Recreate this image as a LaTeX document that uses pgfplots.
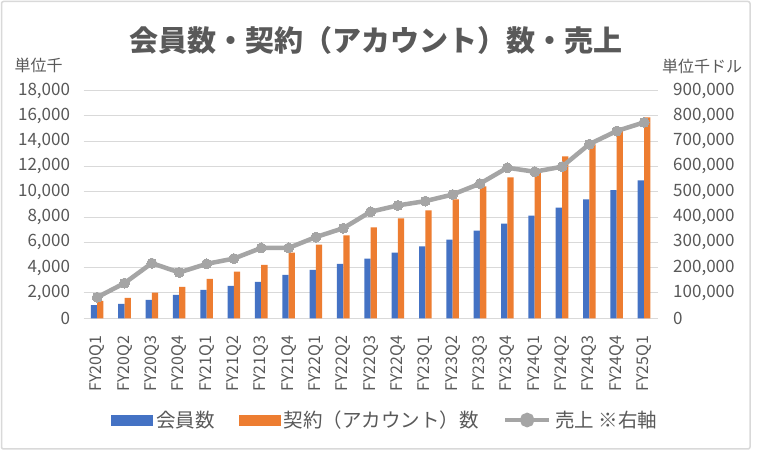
\documentclass[border=0pt]{standalone}
\usepackage{pgfplots}
\pgfplotsset{compat=1.18}
\usepackage{fontspec}
\setmainfont{Noto Sans CJK JP}
\definecolor{cblue}{HTML}{4472C4}
\definecolor{corange}{HTML}{ED7D31}
\definecolor{cgray}{HTML}{A5A5A5}
\definecolor{cgrid}{HTML}{D9D9D9}
\definecolor{ctext}{HTML}{595959}
\newcommand{\fs}[1]{\fontsize{#1}{#1}\selectfont}
\begin{document}
\begin{tikzpicture}
\path[use as bounding box, fill=white] (0pt,0pt) rectangle (768pt,452pt);
\draw[cgrid, line width=1.5pt, rounded corners=2pt] (1.5pt,450.5pt) rectangle (750pt,3pt);
\node[text=ctext, font=\fs{29}\bfseries] at (376pt,412pt) {会員数・契約（アカウント）数・売上};
\node[text=ctext, font=\fs{16}] at (38.5pt,387pt) {単位千};
\node[text=ctext, font=\fs{16}] at (702pt,386pt) {単位千ドル};
\pgfplotsset{
  base/.style={
    scale only axis, width=574.2pt, height=227.8pt,
    at={(83.5pt,133.7pt)}, anchor=south west,
    xmin=-0.5, xmax=20.5,
    axis line style={draw=none}, tick style={draw=none},
    /pgf/number format/assume math mode=true,
    /pgf/number format/fixed,
    /pgf/number format/precision=0,
    /pgf/number format/1000 sep={,},
    scaled y ticks=false,
    yticklabel style={text=ctext, font=\fs{17}},
  }
}
\begin{axis}[base,
  ymin=0, ymax=18000, ytick={0,2000,...,18000},
  ymajorgrids, grid style={cgrid, line width=1pt},
  xtick={0,...,20},
  xticklabels={FY20Q1,FY20Q2,FY20Q3,FY20Q4,FY21Q1,FY21Q2,FY21Q3,FY21Q4,FY22Q1,FY22Q2,FY22Q3,FY22Q4,FY23Q1,FY23Q2,FY23Q3,FY23Q4,FY24Q1,FY24Q2,FY24Q3,FY24Q4,FY25Q1},
  xticklabel style={rotate=90, anchor=east, text=ctext, font=\fs{16}},
  xticklabel shift=14pt,
  yticklabel shift=10pt,
]
\addplot[ybar, fill=cblue, draw=none, bar width=0.23, bar shift=-0.115] coordinates {
(0,1050) (1,1130) (2,1450) (3,1850) (4,2250) (5,2560) (6,2880) (7,3440) (8,3830) (9,4310) (10,4710) (11,5180) (12,5680) (13,6210) (14,6930) (15,7480) (16,8120) (17,8750) (18,9390) (19,10130) (20,10900)};
\addplot[ybar, fill=corange, draw=none, bar width=0.23, bar shift=0.115] coordinates {
(0,1370) (1,1610) (2,2030) (3,2480) (4,3120) (5,3680) (6,4230) (7,5180) (8,5820) (9,6560) (10,7190) (11,7900) (12,8520) (13,9390) (14,10420) (15,11140) (16,11600) (17,12800) (18,13750) (19,14940) (20,15870)};
\end{axis}
\begin{axis}[base,
  ymin=0, ymax=900000, ytick={0,100000,...,900000},
  axis y line*=right, axis x line=none,
  yticklabel style={anchor=west},
  yticklabel shift=12pt,
  legend columns=3,
  legend style={draw=none, fill=none, at={(0.525,-0.4465)}, anchor=center,
    font=\fs{19.5}, text=ctext,
    /tikz/every odd column/.append style={column sep=2pt},
    /tikz/every even column/.append style={column sep=22pt}},
]
\addlegendimage{legend image code/.code={\fill[cblue] (0pt,-5pt) rectangle (41pt,5pt);}}
\addlegendentry{会員数}
\addlegendimage{legend image code/.code={\fill[corange] (0pt,-5pt) rectangle (41pt,5pt);}}
\addlegendentry{契約（アカウント）数}
\addplot[cgray, line width=4.5pt, mark=*, mark size=5pt, mark options={fill=cgray, draw=cgray, line width=0pt},
  legend image code/.code={\draw[cgray, line width=4.5pt] (0pt,0pt) -- (44pt,0pt); \fill[cgray] (22pt,0pt) circle (5pt);}]
coordinates {
(0,83000) (1,139000) (2,218000) (3,181000) (4,215000) (5,236000) (6,278000) (7,278000) (8,321000) (9,356000) (10,421000) (11,446000) (12,463000) (13,489000) (14,532000) (15,595000) (16,579000) (17,599000) (18,688000) (19,740000) (20,774000)};
\addlegendentry{売上 ※右軸}
\end{axis}
\end{tikzpicture}
\end{document}
